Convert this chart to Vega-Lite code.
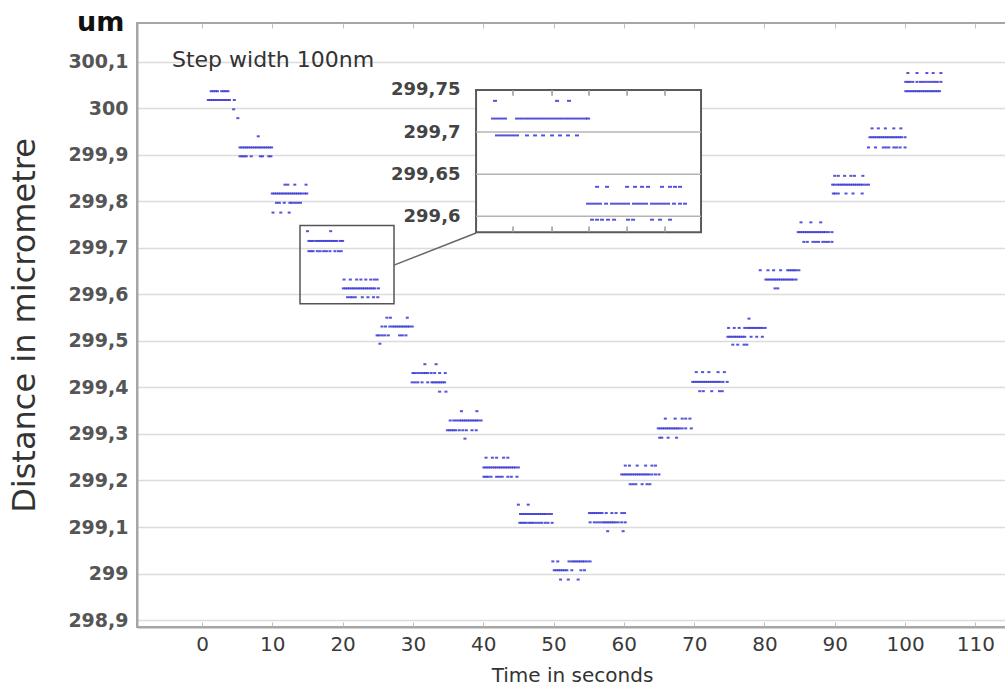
{
"$schema": "https://vega.github.io/schema/vega-lite/v6.json",
"width": 870, "height": 604,
"autosize": "none",
"padding": {"left": 137, "top": 23, "right": 0, "bottom": 63},
"config": {"view": {"stroke": "#a6a6a6", "strokeWidth": 2}, "font": "DejaVu Sans"},
"title": {"text": "um", "anchor": "start", "frame": "group", "font": "DejaVu Sans", "fontSize": 27, "fontWeight": "bold", "color": "#111", "dx": -60, "offset": -14},
"datasets": {
"main": [
{"t":1.3,"v":300.037},{"t":1.6,"v":300.037},{"t":1.9,"v":300.037},{"t":2.2,"v":300.037},{"t":2.8,"v":300.037},{"t":3.1,"v":300.037},{"t":3.4,"v":300.037},{"t":3.7,"v":300.037},
{"t":0.9,"v":300.018},{"t":1.2,"v":300.018},{"t":1.5,"v":300.018},{"t":1.8,"v":300.018},{"t":2.1,"v":300.018},{"t":2.4,"v":300.018},{"t":2.7,"v":300.018},{"t":3.0,"v":300.018},{"t":3.3,"v":300.018},{"t":3.6,"v":300.018},{"t":3.9,"v":300.018},{"t":4.6,"v":300.018},
{"t":4.5,"v":299.998},{"t":5.1,"v":299.979},
{"t":8.0,"v":299.94},
{"t":5.4,"v":299.916},{"t":5.7,"v":299.916},{"t":6.0,"v":299.916},{"t":6.3,"v":299.916},{"t":6.6,"v":299.916},{"t":6.9,"v":299.916},{"t":7.2,"v":299.916},{"t":7.5,"v":299.916},{"t":7.8,"v":299.916},{"t":8.1,"v":299.916},{"t":8.4,"v":299.916},{"t":8.7,"v":299.916},{"t":9.0,"v":299.916},{"t":9.3,"v":299.916},{"t":9.6,"v":299.916},{"t":9.9,"v":299.916},
{"t":5.4,"v":299.897},{"t":5.7,"v":299.897},{"t":6.0,"v":299.897},{"t":6.3,"v":299.897},{"t":7.0,"v":299.897},{"t":8.3,"v":299.897},{"t":8.6,"v":299.897},{"t":9.5,"v":299.897},{"t":9.8,"v":299.897},
{"t":11.8,"v":299.836},{"t":12.2,"v":299.836},{"t":13.2,"v":299.836},{"t":14.8,"v":299.836},
{"t":10.0,"v":299.817},{"t":10.3,"v":299.817},{"t":10.6,"v":299.817},{"t":10.9,"v":299.817},{"t":11.2,"v":299.817},{"t":11.5,"v":299.817},{"t":11.8,"v":299.817},{"t":12.1,"v":299.817},{"t":12.4,"v":299.817},{"t":12.7,"v":299.817},{"t":13.0,"v":299.817},{"t":13.3,"v":299.817},{"t":13.6,"v":299.817},{"t":13.9,"v":299.817},{"t":14.2,"v":299.817},{"t":14.6,"v":299.817},{"t":14.9,"v":299.817},
{"t":10.6,"v":299.797},{"t":11.0,"v":299.797},{"t":11.7,"v":299.797},{"t":12.5,"v":299.797},{"t":12.8,"v":299.797},{"t":13.2,"v":299.797},{"t":13.6,"v":299.797},{"t":14.0,"v":299.797},
{"t":10.1,"v":299.776},{"t":11.2,"v":299.776},{"t":12.4,"v":299.776},
{"t":15.0,"v":299.736},{"t":18.3,"v":299.736},
{"t":15.2,"v":299.715},{"t":15.5,"v":299.715},{"t":15.8,"v":299.715},{"t":16.2,"v":299.715},{"t":16.5,"v":299.715},{"t":16.8,"v":299.715},{"t":17.1,"v":299.715},{"t":17.4,"v":299.715},{"t":17.7,"v":299.715},{"t":18.0,"v":299.715},{"t":18.3,"v":299.715},{"t":18.6,"v":299.715},{"t":18.9,"v":299.715},{"t":19.2,"v":299.715},{"t":19.7,"v":299.715},{"t":20.0,"v":299.715},
{"t":15.2,"v":299.693},{"t":15.5,"v":299.693},{"t":15.8,"v":299.693},{"t":16.4,"v":299.693},{"t":16.8,"v":299.693},{"t":17.3,"v":299.693},{"t":17.7,"v":299.693},{"t":18.2,"v":299.693},{"t":18.9,"v":299.693},{"t":19.4,"v":299.693},{"t":19.8,"v":299.693},
{"t":20.2,"v":299.632},{"t":21.1,"v":299.632},{"t":22.0,"v":299.632},{"t":22.6,"v":299.632},{"t":23.3,"v":299.632},{"t":24.0,"v":299.632},{"t":24.5,"v":299.632},{"t":24.9,"v":299.632},
{"t":20.1,"v":299.613},{"t":20.4,"v":299.613},{"t":20.7,"v":299.613},{"t":21.0,"v":299.613},{"t":21.3,"v":299.613},{"t":21.6,"v":299.613},{"t":21.9,"v":299.613},{"t":22.2,"v":299.613},{"t":22.5,"v":299.613},{"t":22.8,"v":299.613},{"t":23.1,"v":299.613},{"t":23.4,"v":299.613},{"t":23.7,"v":299.613},{"t":24.0,"v":299.613},{"t":24.3,"v":299.613},{"t":24.6,"v":299.613},{"t":25.1,"v":299.613},
{"t":20.7,"v":299.594},{"t":21.1,"v":299.594},{"t":21.4,"v":299.594},{"t":21.8,"v":299.594},{"t":22.8,"v":299.594},{"t":23.6,"v":299.594},{"t":24.4,"v":299.594},{"t":25.0,"v":299.594},
{"t":26.3,"v":299.55},{"t":26.8,"v":299.55},{"t":29.2,"v":299.55},
{"t":25.6,"v":299.531},{"t":26.1,"v":299.531},{"t":26.7,"v":299.531},{"t":27.1,"v":299.531},{"t":27.4,"v":299.531},{"t":27.7,"v":299.531},{"t":28.0,"v":299.531},{"t":28.3,"v":299.531},{"t":28.6,"v":299.531},{"t":28.9,"v":299.531},{"t":29.2,"v":299.531},{"t":29.5,"v":299.531},{"t":29.9,"v":299.531},
{"t":24.9,"v":299.512},{"t":25.2,"v":299.512},{"t":25.6,"v":299.512},{"t":26.0,"v":299.512},{"t":26.5,"v":299.512},{"t":28.1,"v":299.512},{"t":28.5,"v":299.512},{"t":29.0,"v":299.512},
{"t":25.3,"v":299.494},
{"t":31.7,"v":299.45},{"t":33.3,"v":299.45},
{"t":30.0,"v":299.431},{"t":30.3,"v":299.431},{"t":30.7,"v":299.431},{"t":31.1,"v":299.431},{"t":31.5,"v":299.431},{"t":31.8,"v":299.431},{"t":32.1,"v":299.431},{"t":32.6,"v":299.431},{"t":33.1,"v":299.431},{"t":33.8,"v":299.431},{"t":34.6,"v":299.431},
{"t":29.9,"v":299.411},{"t":30.3,"v":299.411},{"t":30.7,"v":299.411},{"t":31.3,"v":299.411},{"t":32.1,"v":299.411},{"t":32.7,"v":299.411},{"t":33.0,"v":299.411},{"t":33.3,"v":299.411},{"t":33.6,"v":299.411},{"t":33.9,"v":299.411},{"t":34.2,"v":299.411},{"t":34.5,"v":299.411},
{"t":33.8,"v":299.391},{"t":34.7,"v":299.391},
{"t":36.9,"v":299.349},{"t":39.1,"v":299.349},
{"t":35.3,"v":299.329},{"t":35.8,"v":299.329},{"t":36.2,"v":299.329},{"t":36.6,"v":299.329},{"t":36.9,"v":299.329},{"t":37.2,"v":299.329},{"t":37.5,"v":299.329},{"t":37.8,"v":299.329},{"t":38.1,"v":299.329},{"t":38.4,"v":299.329},{"t":38.7,"v":299.329},{"t":39.0,"v":299.329},{"t":39.3,"v":299.329},{"t":39.7,"v":299.329},
{"t":34.9,"v":299.308},{"t":35.2,"v":299.308},{"t":35.5,"v":299.308},{"t":35.8,"v":299.308},{"t":36.1,"v":299.308},{"t":36.6,"v":299.308},{"t":37.1,"v":299.308},{"t":37.6,"v":299.308},{"t":38.4,"v":299.308},{"t":39.0,"v":299.308},
{"t":37.4,"v":299.29},
{"t":40.4,"v":299.249},{"t":41.3,"v":299.249},{"t":41.9,"v":299.249},{"t":42.9,"v":299.249},{"t":43.5,"v":299.249},
{"t":40.1,"v":299.228},{"t":40.4,"v":299.228},{"t":40.7,"v":299.228},{"t":41.0,"v":299.228},{"t":41.3,"v":299.228},{"t":41.6,"v":299.228},{"t":41.9,"v":299.228},{"t":42.2,"v":299.228},{"t":42.5,"v":299.228},{"t":42.8,"v":299.228},{"t":43.1,"v":299.228},{"t":43.4,"v":299.228},{"t":43.7,"v":299.228},{"t":44.0,"v":299.228},{"t":44.3,"v":299.228},{"t":44.6,"v":299.228},{"t":45.0,"v":299.228},
{"t":40.1,"v":299.208},{"t":40.4,"v":299.208},{"t":40.7,"v":299.208},{"t":41.1,"v":299.208},{"t":41.9,"v":299.208},{"t":42.3,"v":299.208},{"t":42.7,"v":299.208},{"t":43.5,"v":299.208},{"t":44.0,"v":299.208},{"t":44.8,"v":299.208},
{"t":45.0,"v":299.148},{"t":46.4,"v":299.148},
{"t":45.3,"v":299.128},{"t":45.6,"v":299.128},{"t":45.9,"v":299.128},{"t":46.2,"v":299.128},{"t":46.5,"v":299.128},{"t":46.8,"v":299.128},{"t":47.1,"v":299.128},{"t":47.4,"v":299.128},{"t":47.7,"v":299.128},{"t":48.0,"v":299.128},{"t":48.3,"v":299.128},{"t":48.6,"v":299.128},{"t":48.9,"v":299.128},{"t":49.3,"v":299.128},{"t":49.7,"v":299.128},
{"t":45.2,"v":299.109},{"t":45.5,"v":299.109},{"t":45.8,"v":299.109},{"t":46.1,"v":299.109},{"t":46.5,"v":299.109},{"t":46.8,"v":299.109},{"t":47.1,"v":299.109},{"t":47.5,"v":299.109},{"t":47.9,"v":299.109},{"t":48.3,"v":299.109},{"t":48.8,"v":299.109},{"t":49.2,"v":299.109},{"t":49.8,"v":299.109},
{"t":49.9,"v":299.026},{"t":50.6,"v":299.026},{"t":52.2,"v":299.026},{"t":52.6,"v":299.026},{"t":52.9,"v":299.026},{"t":53.2,"v":299.026},{"t":53.5,"v":299.026},{"t":53.8,"v":299.026},{"t":54.1,"v":299.026},{"t":54.4,"v":299.026},{"t":54.8,"v":299.026},{"t":55.2,"v":299.026},
{"t":50.1,"v":299.007},{"t":50.4,"v":299.007},{"t":50.7,"v":299.007},{"t":51.0,"v":299.007},{"t":51.3,"v":299.007},{"t":51.6,"v":299.007},{"t":51.9,"v":299.007},{"t":52.6,"v":299.007},{"t":53.9,"v":299.007},{"t":54.4,"v":299.007},
{"t":51.0,"v":298.987},{"t":52.1,"v":298.987},{"t":53.5,"v":298.987},
{"t":55.1,"v":299.13},{"t":55.4,"v":299.13},{"t":55.7,"v":299.13},{"t":56.0,"v":299.13},{"t":56.3,"v":299.13},{"t":56.6,"v":299.13},{"t":56.9,"v":299.13},{"t":57.5,"v":299.13},{"t":58.3,"v":299.13},{"t":58.9,"v":299.13},{"t":59.7,"v":299.13},{"t":60.1,"v":299.13},
{"t":55.2,"v":299.11},{"t":55.8,"v":299.11},{"t":56.2,"v":299.11},{"t":56.6,"v":299.11},{"t":57.0,"v":299.11},{"t":57.3,"v":299.11},{"t":57.6,"v":299.11},{"t":57.9,"v":299.11},{"t":58.2,"v":299.11},{"t":58.5,"v":299.11},{"t":58.8,"v":299.11},{"t":59.2,"v":299.11},{"t":59.7,"v":299.11},{"t":60.2,"v":299.11},
{"t":57.7,"v":299.091},{"t":59.9,"v":299.091},
{"t":60.2,"v":299.232},{"t":60.8,"v":299.232},{"t":61.9,"v":299.232},{"t":63.1,"v":299.232},{"t":64.0,"v":299.232},{"t":64.5,"v":299.232},
{"t":59.7,"v":299.213},{"t":60.0,"v":299.213},{"t":60.3,"v":299.213},{"t":60.6,"v":299.213},{"t":60.9,"v":299.213},{"t":61.2,"v":299.213},{"t":61.5,"v":299.213},{"t":61.8,"v":299.213},{"t":62.1,"v":299.213},{"t":62.4,"v":299.213},{"t":62.7,"v":299.213},{"t":63.0,"v":299.213},{"t":63.3,"v":299.213},{"t":63.6,"v":299.213},{"t":64.0,"v":299.213},{"t":64.5,"v":299.213},{"t":65.0,"v":299.213},
{"t":60.9,"v":299.192},{"t":61.3,"v":299.192},{"t":61.7,"v":299.192},{"t":62.6,"v":299.192},{"t":63.3,"v":299.192},{"t":63.7,"v":299.192},
{"t":65.9,"v":299.333},{"t":67.3,"v":299.333},{"t":68.3,"v":299.333},{"t":68.8,"v":299.333},{"t":69.4,"v":299.333},
{"t":64.9,"v":299.312},{"t":65.2,"v":299.312},{"t":65.5,"v":299.312},{"t":65.8,"v":299.312},{"t":66.1,"v":299.312},{"t":66.4,"v":299.312},{"t":66.7,"v":299.312},{"t":67.0,"v":299.312},{"t":67.3,"v":299.312},{"t":67.6,"v":299.312},{"t":67.9,"v":299.312},{"t":68.3,"v":299.312},{"t":68.8,"v":299.312},{"t":69.6,"v":299.312},
{"t":65.1,"v":299.292},{"t":65.4,"v":299.292},{"t":66.3,"v":299.292},{"t":67.5,"v":299.292},
{"t":70.3,"v":299.433},{"t":71.2,"v":299.433},{"t":72.1,"v":299.433},{"t":73.4,"v":299.433},{"t":74.3,"v":299.433},
{"t":69.8,"v":299.412},{"t":70.1,"v":299.412},{"t":70.4,"v":299.412},{"t":70.7,"v":299.412},{"t":71.0,"v":299.412},{"t":71.3,"v":299.412},{"t":71.6,"v":299.412},{"t":71.9,"v":299.412},{"t":72.2,"v":299.412},{"t":72.5,"v":299.412},{"t":72.8,"v":299.412},{"t":73.1,"v":299.412},{"t":73.4,"v":299.412},{"t":73.7,"v":299.412},{"t":74.1,"v":299.412},{"t":74.7,"v":299.412},
{"t":70.8,"v":299.392},{"t":71.3,"v":299.392},{"t":72.5,"v":299.392},{"t":73.6,"v":299.392},{"t":74.0,"v":299.392},
{"t":77.8,"v":299.548},
{"t":74.9,"v":299.528},{"t":75.7,"v":299.528},{"t":76.4,"v":299.528},{"t":77.2,"v":299.528},{"t":77.6,"v":299.528},{"t":77.9,"v":299.528},{"t":78.2,"v":299.528},{"t":78.5,"v":299.528},{"t":78.8,"v":299.528},{"t":79.1,"v":299.528},{"t":79.4,"v":299.528},{"t":79.7,"v":299.528},{"t":80.1,"v":299.528},
{"t":74.8,"v":299.509},{"t":75.1,"v":299.509},{"t":75.4,"v":299.509},{"t":75.7,"v":299.509},{"t":76.0,"v":299.509},{"t":76.3,"v":299.509},{"t":76.6,"v":299.509},{"t":76.9,"v":299.509},{"t":77.2,"v":299.509},{"t":78.1,"v":299.509},{"t":78.9,"v":299.509},{"t":79.7,"v":299.509},
{"t":75.5,"v":299.492},{"t":76.2,"v":299.492},{"t":77.1,"v":299.492},{"t":77.5,"v":299.492},
{"t":79.4,"v":299.652},{"t":80.5,"v":299.652},{"t":81.3,"v":299.652},{"t":82.3,"v":299.652},{"t":83.3,"v":299.652},{"t":83.6,"v":299.652},{"t":83.9,"v":299.652},{"t":84.2,"v":299.652},{"t":84.5,"v":299.652},{"t":84.9,"v":299.652},
{"t":80.2,"v":299.632},{"t":80.5,"v":299.632},{"t":80.8,"v":299.632},{"t":81.1,"v":299.632},{"t":81.4,"v":299.632},{"t":81.7,"v":299.632},{"t":82.0,"v":299.632},{"t":82.3,"v":299.632},{"t":82.6,"v":299.632},{"t":82.9,"v":299.632},{"t":83.2,"v":299.632},{"t":83.5,"v":299.632},{"t":83.8,"v":299.632},{"t":84.1,"v":299.632},{"t":84.5,"v":299.632},
{"t":81.5,"v":299.613},{"t":81.9,"v":299.613},
{"t":85.2,"v":299.755},{"t":86.6,"v":299.755},{"t":88.0,"v":299.755},
{"t":84.8,"v":299.734},{"t":85.1,"v":299.734},{"t":85.4,"v":299.734},{"t":85.7,"v":299.734},{"t":86.0,"v":299.734},{"t":86.3,"v":299.734},{"t":86.6,"v":299.734},{"t":86.9,"v":299.734},{"t":87.2,"v":299.734},{"t":87.5,"v":299.734},{"t":87.8,"v":299.734},{"t":88.1,"v":299.734},{"t":88.4,"v":299.734},{"t":88.7,"v":299.734},{"t":89.1,"v":299.734},{"t":89.6,"v":299.734},
{"t":85.6,"v":299.713},{"t":86.1,"v":299.713},{"t":86.9,"v":299.713},{"t":87.3,"v":299.713},{"t":87.7,"v":299.713},{"t":88.3,"v":299.713},{"t":88.7,"v":299.713},{"t":89.1,"v":299.713},{"t":89.6,"v":299.713},
{"t":90.0,"v":299.855},{"t":90.5,"v":299.855},{"t":91.4,"v":299.855},{"t":92.3,"v":299.855},{"t":92.8,"v":299.855},{"t":94.0,"v":299.855},
{"t":89.7,"v":299.836},{"t":90.0,"v":299.836},{"t":90.4,"v":299.836},{"t":90.7,"v":299.836},{"t":91.0,"v":299.836},{"t":91.3,"v":299.836},{"t":91.6,"v":299.836},{"t":91.9,"v":299.836},{"t":92.2,"v":299.836},{"t":92.5,"v":299.836},{"t":92.8,"v":299.836},{"t":93.1,"v":299.836},{"t":93.4,"v":299.836},{"t":93.7,"v":299.836},{"t":94.0,"v":299.836},{"t":94.4,"v":299.836},{"t":94.8,"v":299.836},
{"t":89.8,"v":299.817},{"t":90.1,"v":299.817},{"t":90.5,"v":299.817},{"t":91.6,"v":299.817},{"t":92.6,"v":299.817},{"t":93.9,"v":299.817},
{"t":95.3,"v":299.957},{"t":96.2,"v":299.957},{"t":97.2,"v":299.957},{"t":98.4,"v":299.957},{"t":99.4,"v":299.957},
{"t":95.0,"v":299.938},{"t":95.3,"v":299.938},{"t":95.6,"v":299.938},{"t":95.9,"v":299.938},{"t":96.2,"v":299.938},{"t":96.5,"v":299.938},{"t":96.8,"v":299.938},{"t":97.1,"v":299.938},{"t":97.4,"v":299.938},{"t":97.7,"v":299.938},{"t":98.0,"v":299.938},{"t":98.3,"v":299.938},{"t":98.6,"v":299.938},{"t":98.9,"v":299.938},{"t":99.2,"v":299.938},{"t":99.5,"v":299.938},{"t":100.0,"v":299.938},
{"t":94.8,"v":299.916},{"t":95.8,"v":299.916},{"t":96.9,"v":299.916},{"t":97.3,"v":299.916},{"t":97.7,"v":299.916},{"t":98.4,"v":299.916},{"t":98.8,"v":299.916},{"t":99.3,"v":299.916},{"t":100.0,"v":299.916},
{"t":100.4,"v":300.076},{"t":101.7,"v":300.076},{"t":103.1,"v":300.076},{"t":104.0,"v":300.076},{"t":105.1,"v":300.076},
{"t":100.1,"v":300.057},{"t":100.4,"v":300.057},{"t":100.7,"v":300.057},{"t":101.1,"v":300.057},{"t":101.7,"v":300.057},{"t":102.2,"v":300.057},{"t":102.6,"v":300.057},{"t":103.0,"v":300.057},{"t":103.4,"v":300.057},{"t":103.8,"v":300.057},{"t":104.2,"v":300.057},{"t":104.6,"v":300.057},{"t":105.1,"v":300.057},
{"t":100.1,"v":300.037},{"t":100.4,"v":300.037},{"t":100.7,"v":300.037},{"t":101.0,"v":300.037},{"t":101.3,"v":300.037},{"t":101.6,"v":300.037},{"t":101.9,"v":300.037},{"t":102.2,"v":300.037},{"t":102.5,"v":300.037},{"t":102.8,"v":300.037},{"t":103.1,"v":300.037},{"t":103.4,"v":300.037},{"t":103.7,"v":300.037},{"t":104.0,"v":300.037},{"t":104.3,"v":300.037},{"t":104.6,"v":300.037},{"t":104.9,"v":300.037}
],
"inset": [
{"t":41.68,"v":299.737},{"t":50.5,"v":299.737},{"t":52.2,"v":299.737},
{"t":41.39,"v":299.716},{"t":41.96,"v":299.716},{"t":42.53,"v":299.716},{"t":43.1,"v":299.716},{"t":44.81,"v":299.716},{"t":45.38,"v":299.716},{"t":45.95,"v":299.716},{"t":46.51,"v":299.716},{"t":47.08,"v":299.716},{"t":47.65,"v":299.716},{"t":48.22,"v":299.716},{"t":48.79,"v":299.716},{"t":49.36,"v":299.716},{"t":49.93,"v":299.716},{"t":50.5,"v":299.716},{"t":51.07,"v":299.716},{"t":51.64,"v":299.716},{"t":52.2,"v":299.716},{"t":52.77,"v":299.716},{"t":53.34,"v":299.716},{"t":53.91,"v":299.716},{"t":54.48,"v":299.716},{"t":54.91,"v":299.716},
{"t":41.96,"v":299.696},{"t":42.53,"v":299.696},{"t":43.1,"v":299.696},{"t":43.67,"v":299.696},{"t":44.24,"v":299.696},{"t":44.81,"v":299.696},{"t":46.23,"v":299.696},{"t":47.37,"v":299.696},{"t":48.51,"v":299.696},{"t":49.79,"v":299.696},{"t":50.92,"v":299.696},{"t":52.06,"v":299.696},{"t":53.34,"v":299.696},
{"t":56.19,"v":299.635},{"t":57.61,"v":299.635},{"t":60.46,"v":299.635},{"t":61.59,"v":299.635},{"t":62.59,"v":299.635},{"t":63.44,"v":299.635},{"t":65.43,"v":299.635},{"t":66.57,"v":299.635},{"t":67.28,"v":299.635},{"t":67.99,"v":299.635},
{"t":54.91,"v":299.615},{"t":55.48,"v":299.615},{"t":56.05,"v":299.615},{"t":56.61,"v":299.615},{"t":57.47,"v":299.615},{"t":58.32,"v":299.615},{"t":58.89,"v":299.615},{"t":59.46,"v":299.615},{"t":60.03,"v":299.615},{"t":60.6,"v":299.615},{"t":61.45,"v":299.615},{"t":62.02,"v":299.615},{"t":62.59,"v":299.615},{"t":63.16,"v":299.615},{"t":64.01,"v":299.615},{"t":64.58,"v":299.615},{"t":65.15,"v":299.615},{"t":65.72,"v":299.615},{"t":66.29,"v":299.615},{"t":67.14,"v":299.615},{"t":67.99,"v":299.615},{"t":68.7,"v":299.615},
{"t":55.48,"v":299.596},{"t":56.19,"v":299.596},{"t":56.9,"v":299.596},{"t":57.75,"v":299.596},{"t":58.61,"v":299.596},{"t":60.6,"v":299.596},{"t":61.31,"v":299.596},{"t":64.01,"v":299.596},{"t":65.15,"v":299.596},{"t":66.57,"v":299.596}
]
},
"layer": [
{"data": {"name": "main"},
 "mark": {"type": "tick", "orient": "horizontal", "size": 3, "thickness": 2, "color": "#3535d6", "opacity": 0.85},
 "encoding": {
  "x": {"field": "t", "type": "quantitative", "scale": {"domain": [-9.246, 114.5], "nice": false, "zero": false},
   "axis": {"values": [0,10,20,30,40,50,60,70,80,90,100,110], "grid": false, "domainColor": "#a6a6a6", "domainWidth": 2, "tickColor": "#c0c0c0", "tickSize": -5, "labelPadding": 12, "labelFont": "DejaVu Sans", "labelFontSize": 20, "labelColor": "#3a3a3a", "title": "Time in seconds", "titleFont": "DejaVu Sans", "titleFontSize": 20, "titleFontWeight": "normal", "titleColor": "#333", "titlePadding": 11}},
  "y": {"field": "v", "type": "quantitative", "scale": {"domain": [298.885, 300.1836], "nice": false, "zero": false},
   "axis": {"values": [298.9,299,299.1,299.2,299.3,299.4,299.5,299.6,299.7,299.8,299.9,300,300.1], "labelExpr": "replace(format(datum.value, '.1~f'), '.', ',')", "grid": true, "gridColor": "#dcdcdc", "gridWidth": 1.5, "domainColor": "#a6a6a6", "domainWidth": 2, "ticks": false, "labelPadding": 9, "labelFont": "DejaVu Sans", "labelFontSize": 19, "labelFontWeight": "bold", "labelColor": "#555", "title": "Distance in micrometre", "titleFont": "DejaVu Sans", "titleFontSize": 32, "titleFontWeight": "normal", "titleColor": "#333", "titlePadding": 26}}
 }},
{"data": {"values": [{"t1": 13.94, "t2": 27.31, "v1": 299.58, "v2": 299.748}]},
 "mark": {"type": "rect", "fill": "#ffffff", "fillOpacity": 0, "stroke": "#555555", "strokeWidth": 1.5},
 "encoding": {"x": {"field": "t1", "type": "quantitative", "scale": {"domain": [-9.246, 114.5], "nice": false, "zero": false}, "axis": null}, "x2": {"field": "t2"}, "y": {"field": "v1", "type": "quantitative", "scale": {"domain": [298.885, 300.1836], "nice": false, "zero": false}, "axis": null}, "y2": {"field": "v2"}}},
{"data": {"values": [{"t1": 27.31, "v1": 299.663, "t2": 38.98, "v2": 299.732}]},
 "mark": {"type": "rule", "color": "#666666", "strokeWidth": 1.5},
 "encoding": {"x": {"field": "t1", "type": "quantitative", "scale": {"domain": [-9.246, 114.5], "nice": false, "zero": false}, "axis": null}, "x2": {"field": "t2"}, "y": {"field": "v1", "type": "quantitative", "scale": {"domain": [298.885, 300.1836], "nice": false, "zero": false}, "axis": null}, "y2": {"field": "v2"}}},
{"data": {"values": [{"label": "Step width 100nm", "t": -4.27, "v": 300.089}]},
 "mark": {"type": "text", "align": "left", "baseline": "alphabetic", "font": "DejaVu Sans", "fontSize": 22, "color": "#333"},
 "encoding": {"text": {"field": "label"}, "x": {"field": "t", "type": "quantitative", "scale": {"domain": [-9.246, 114.5], "nice": false, "zero": false}, "axis": null}, "y": {"field": "v", "type": "quantitative", "scale": {"domain": [298.885, 300.1836], "nice": false, "zero": false}, "axis": null}}},
{"data": {"values": [{"t1": 38.98, "t2": 70.98, "v1": 299.581, "v2": 299.75}]},
 "mark": {"type": "rect", "fill": "#ffffff", "stroke": "#5a5a5a", "strokeWidth": 2},
 "encoding": {"x": {"field": "t1", "type": "quantitative", "scale": {"domain": [-9.246, 114.5], "nice": false, "zero": false}, "axis": null}, "x2": {"field": "t2"}, "y": {"field": "v1", "type": "quantitative", "scale": {"domain": [299.1127, 299.8294], "nice": false, "zero": false}, "axis": null}, "y2": {"field": "v2"}}},
{"data": {"values": [{"t1": 38.98, "t2": 70.98, "v": 299.6}, {"t1": 38.98, "t2": 70.98, "v": 299.65}, {"t1": 38.98, "t2": 70.98, "v": 299.7}]},
 "mark": {"type": "rule", "color": "#b4b4b4", "strokeWidth": 1.5},
 "encoding": {"x": {"field": "t1", "type": "quantitative", "scale": {"domain": [-9.246, 114.5], "nice": false, "zero": false}, "axis": null}, "x2": {"field": "t2"}, "y": {"field": "v", "type": "quantitative", "scale": {"domain": [299.1127, 299.8294], "nice": false, "zero": false}, "axis": null}}},
{"data": {"values": [{"t": 44.24, "v1": 299.75, "v2": 299.743}, {"t": 49.79, "v1": 299.75, "v2": 299.743}, {"t": 55.05, "v1": 299.75, "v2": 299.743}, {"t": 60.46, "v1": 299.75, "v2": 299.743}, {"t": 65.86, "v1": 299.75, "v2": 299.743}, {"t": 44.24, "v1": 299.581, "v2": 299.588}, {"t": 49.79, "v1": 299.581, "v2": 299.588}, {"t": 55.05, "v1": 299.581, "v2": 299.588}, {"t": 60.46, "v1": 299.581, "v2": 299.588}, {"t": 65.86, "v1": 299.581, "v2": 299.588}]},
 "mark": {"type": "rule", "color": "#999999", "strokeWidth": 1.5},
 "encoding": {"x": {"field": "t", "type": "quantitative", "scale": {"domain": [-9.246, 114.5], "nice": false, "zero": false}, "axis": null}, "y": {"field": "v1", "type": "quantitative", "scale": {"domain": [299.1127, 299.8294], "nice": false, "zero": false}, "axis": null}, "y2": {"field": "v2"}}},
{"data": {"name": "inset"},
 "mark": {"type": "tick", "orient": "horizontal", "size": 4, "thickness": 2, "color": "#3535d6", "opacity": 0.85},
 "encoding": {
  "x": {"field": "t", "type": "quantitative", "scale": {"domain": [-9.246, 114.5], "nice": false, "zero": false},
   "axis": {"orient": "top", "values": [0,10,20,30,40,50,60,70,80,90,100,110], "labels": false, "domain": false, "grid": false, "tickColor": "#c0c0c0", "tickSize": -5, "title": null}},
  "y": {"field": "v", "type": "quantitative", "scale": {"domain": [299.1127, 299.8294], "nice": false, "zero": false},
   "axis": {"orient": "left", "offset": -323, "values": [299.6, 299.65, 299.7, 299.75], "labelExpr": "replace(format(datum.value, '.2~f'), '.', ',')", "grid": false, "domain": false, "ticks": false, "labelPadding": 0, "labelFont": "DejaVu Sans", "labelFontSize": 18, "labelFontWeight": "bold", "labelColor": "#444", "title": null}}
 }}
],
"resolve": {"scale": {"x": "independent", "y": "independent"}, "axis": {"x": "independent", "y": "independent"}}
}
